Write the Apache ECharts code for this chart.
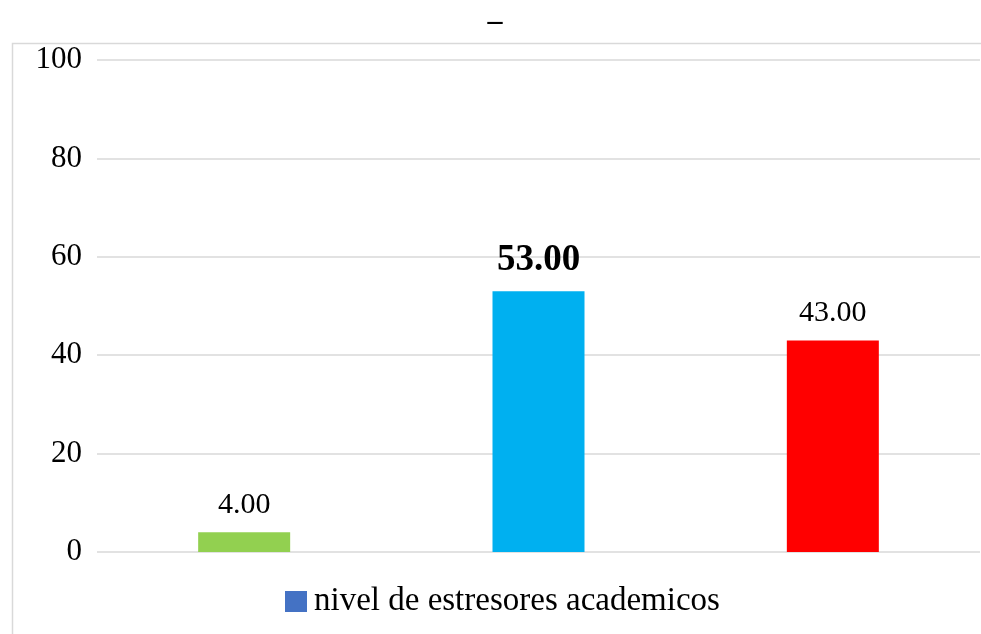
<!DOCTYPE html>
<html><head><meta charset="utf-8">
<style>html,body{margin:0;padding:0;background:#fff}#c{width:981px;height:634px}</style>
<script src="https://cdn.jsdelivr.net/npm/echarts@6/dist/echarts.min.js"></script>
</head><body><div id="c"></div>
<script>
var categories = ['Bajo', 'Medio', 'Alto'];
var values = [4.00, 53.00, 43.00];
var barColors = ['#92D050', '#00B0F0', '#FF0000'];
var yTicks = [0, 20, 40, 60, 80, 100];
var seriesName = 'nivel de estresores academicos';

var chart = echarts.init(document.getElementById('c'));
var font = '"Liberation Serif", "Times New Roman", serif';
chart.setOption({
  animation: false,
  title: { text: '_', left: 490, top: -8, textAlign: 'center', textStyle: { fontFamily: font, fontSize: 30, fontWeight: 'bold', color: '#000' } },
  graphic: [{ type: 'rect', shape: { x: 12.5, y: 43.5, width: 1000, height: 700 }, style: { fill: 'none', stroke: '#d9d9d9', lineWidth: 1.5 }, silent: true }],
  grid: { left: 97, right: 1, top: 60, bottom: 82, containLabel: false },
  legend: { show: true, top: 585, left: 285, padding: 0, itemWidth: 22, itemHeight: 21, itemGap: 10,
    textStyle: { fontFamily: font, fontSize: 33, color: '#000', padding: [0, 0, 0, 2] },
    data: [{ name: seriesName, icon: 'rect', itemStyle: { color: '#4472C4' } }] },
  xAxis: { type: 'category', data: categories, axisLine: { show: false }, axisTick: { show: false }, axisLabel: { show: false } },
  yAxis: { type: 'value', min: 0, max: 100, interval: 20,
    axisLine: { show: false }, axisTick: { show: false },
    splitLine: { lineStyle: { color: '#d9d9d9', width: 1.5 } },
    axisLabel: { margin: 15, fontFamily: font, fontSize: 31, color: '#000' } },
  series: [{
    name: seriesName, type: 'bar', barWidth: 92,
    itemStyle: { color: '#4472C4' },
    label: { show: true, position: 'top', distance: 12, fontFamily: font, fontSize: 30, color: '#000',
      formatter: function (p) { return p.value.toFixed(2); } },
    data: values.map(function (v, i) {
      var d = { value: v, itemStyle: { color: barColors[i] } };
      if (i === 1) d.label = { fontWeight: 'bold', fontSize: 37, distance: 12 };
      return d;
    })
  }]
});
</script></body></html>
